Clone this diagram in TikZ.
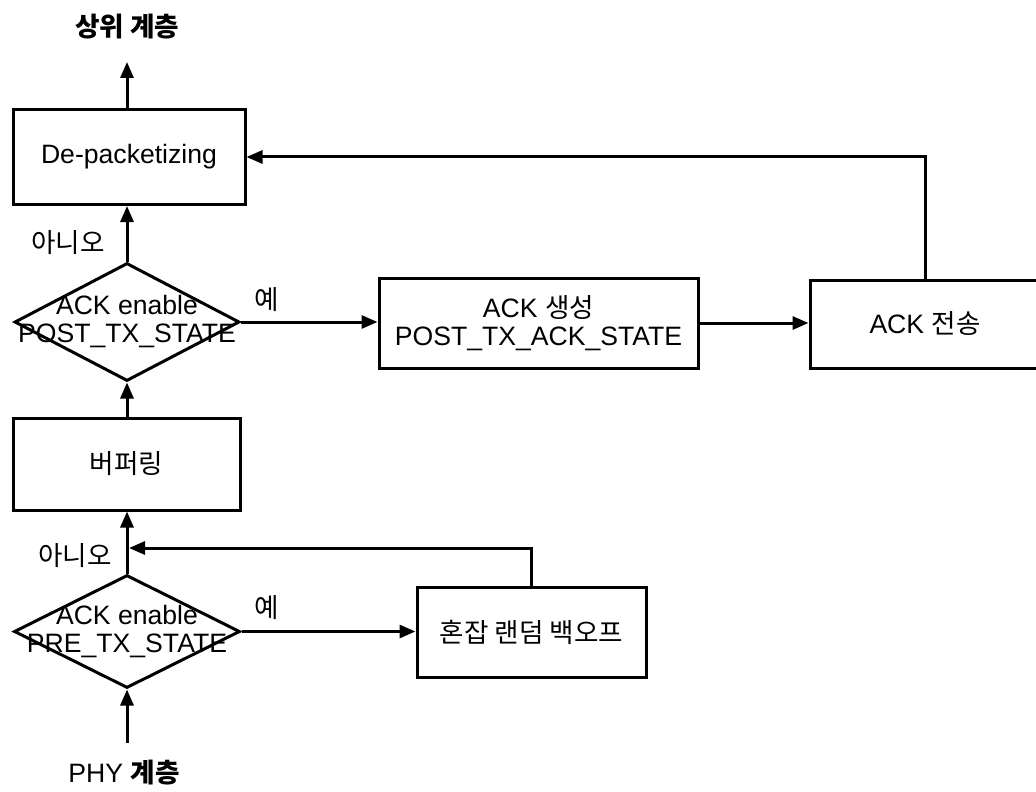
\documentclass[tikz,border=0pt]{standalone}
\usepackage{fontspec}
\setmainfont{Liberation Sans}
\newfontfamily\kr{Noto Sans CJK KR}
\usetikzlibrary{arrows.meta, shapes.geometric}

\begin{document}
\begin{tikzpicture}[x=0.5pt, y=-0.5pt, >={Triangle[length=8pt, width=6.5pt]},
  line width=1.5pt,
  every node/.style={font=\fontsize{13.3}{14}\selectfont},
  block/.style={draw, rectangle, inner sep=0pt, align=center},
  decision/.style={draw, diamond, inner sep=0pt}]
  \useasboundingbox (0,0) rectangle (1036,791);

  % layers
  \node (upper) at (127,27) {\kr\bfseries 상위 계층};
  \node (phy) at (124,773) {PHY {\kr\bfseries 계층}};
  \coordinate (upperin) at (127,62);
  \coordinate (phyout) at (127,743);

  % receive path
  \node[block, minimum width=116pt, minimum height=47.5pt] (depack) at (129,157) {De-packetizing};
  \node[decision, minimum width=112.5pt, minimum height=59pt] (chk1) at (127,322) {};
  \node[align=center] (chk1txt) at (chk1) {ACK enable\\POST\_TX\_STATE};
  \node[block, minimum width=113.5pt, minimum height=46pt] (buf) at (126.5,464) {\kr 버퍼링};
  \node[decision, minimum width=113pt, minimum height=56.5pt] (chk2) at (127,631.5) {};
  \node[align=center] (chk2txt) at (chk2) {ACK enable\\PRE\_TX\_STATE};

  % ACK path
  \node[block, minimum width=159.5pt, minimum height=45pt] (ackgen) at (538.5,323) {ACK {\kr 생성}\\POST\_TX\_ACK\_STATE};
  \node[block, minimum width=115pt, minimum height=44pt] (acksend) at (925,324) {ACK {\kr 전송}};
  \node[block, minimum width=114.5pt, minimum height=45pt] (backoff) at (531.5,632) {\kr 혼잡 랜덤 백오프};
  \coordinate (merge) at (129,548);

  % labels
  \node (no1) at (68,243) {\kr 아니오};
  \node (no2) at (75,556) {\kr 아니오};
  \node (yes1) at (267,300) {\kr 예};
  \node (yes2) at (267,608) {\kr 예};

  % connectors
  \draw[->] (chk1.north |- depack.north) -- (upperin);
  \draw[->] (chk1.north) -- (chk1.north |- depack.south);
  \draw[->] (chk1.south |- buf.north) -- (chk1.south);
  \draw[->] (chk2.north) -- (chk2.north |- buf.south);
  \draw[->] (phyout) -- (chk2.south);
  \draw[->] (chk1.east) -- (chk1.east -| ackgen.west);
  \draw[->] (ackgen.east) -- (ackgen.east -| acksend.west);
  \draw[->] (acksend.north) |- (depack.east);
  \draw[->] (chk2.east) -- (chk2.east -| backoff.west);
  \draw[->] (backoff.north) |- (merge);

\end{tikzpicture}
\end{document}
